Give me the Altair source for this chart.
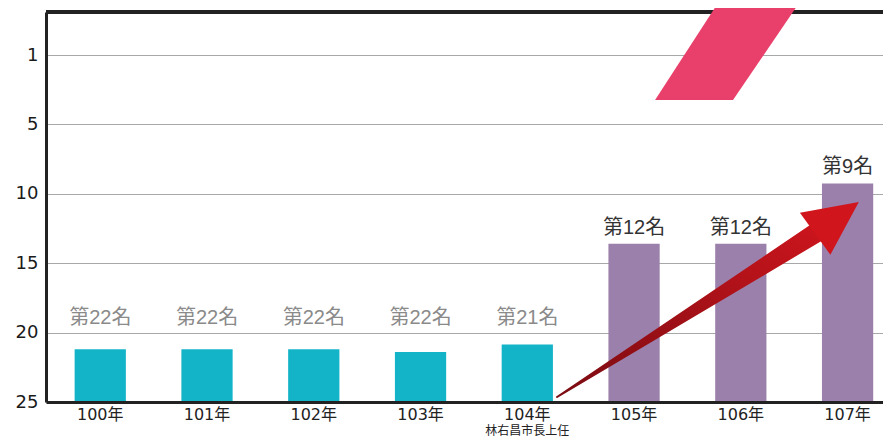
import altair as alt
import pandas as pd

# ---- data ----
years = ["100年", "101年", "102年", "103年", "104年", "105年", "106年", "107年"]
rank_labels = ["第22名", "第22名", "第22名", "第22名", "第21名", "第12名", "第12名", "第9名"]
bar_values = [21.2, 21.2, 21.2, 21.4, 20.85, 13.6, 13.6, 9.25]
periods = ["before", "before", "before", "before", "before", "after", "after", "after"]
ytick_values = [0, 5, 10, 15, 20, 25]
ytick_labels = ["1", "5", "10", "15", "20", "25"]
note_year = "104年"
note_text = "林右昌市長上任"

# decorative arrow / band, in (category index, rank) units
arrow_x = [4.279, 6.761]
arrow_y = [24.64, 12.54]
arrow_w = [2, 20]
head_x = [6.901]
head_y = [11.74]
band_y = [-3.39, 3.24]
band_x = [5.756, 5.197]
band_x2 = [6.514, 5.927]

FONT = "DejaVu Sans, Noto Sans CJK TC"
LFONT = "Liberation Sans, Noto Sans CJK TC"

df = pd.DataFrame({"year": years, "value": bar_values, "label": rank_labels, "period": periods})

xs = alt.Scale(domain=years, paddingInner=0.52, paddingOuter=0.18, align=0.745)
ys = alt.Scale(domain=[-3.1, 25], reverse=True, nice=False, zero=False)

label_expr = "[" + ",".join("'%s'" % s for s in ytick_labels) + "][indexof([" + \
    ",".join(str(v) for v in ytick_values) + "], datum.value)]"

y_axis = alt.Axis(title=None, values=ytick_values, labelExpr=label_expr,
                  ticks=False, labelPadding=8, labelFontSize=18,
                  labelColor="#1a1a1a", labelFont=FONT,
                  grid=True, gridColor="#a8a8a8", gridWidth=1.2,
                  domainColor="#222", domainWidth=3,
                  minExtent=38, maxExtent=38)

bars = alt.Chart(df).mark_bar().encode(
    x=alt.X("year:N", scale=xs, sort=years,
            axis=alt.Axis(title=None, labelAngle=0, ticks=False, labelPadding=4,
                          labelFontSize=16, labelColor="#222", labelFont=FONT,
                          domainColor="#222", domainWidth=3, zindex=1)),
    y=alt.Y("value:Q", scale=ys, axis=y_axis),
    y2=alt.datum(25),
    color=alt.Color("period:N", scale=alt.Scale(domain=["before", "after"],
                                                range=["#14B4C8", "#9B80AB"]), legend=None),
)

top_border = alt.Chart(df).mark_rule(color="#222", strokeWidth=3).encode(
    y=alt.datum(-3.1)
)

labels_before = alt.Chart(df).transform_filter("datum.period == 'before'").mark_text(
    baseline="alphabetic", dy=-9, fontSize=20, color="#8a8a8a", font=LFONT
).encode(
    x=alt.X("year:N", scale=xs, sort=years),
    y=alt.datum(20),
    text="label:N",
)

labels_after = alt.Chart(df).transform_filter("datum.period == 'after'").mark_text(
    baseline="alphabetic", dy=-10, fontSize=20, color="#333", font=LFONT
).encode(
    x=alt.X("year:N", scale=xs, sort=years),
    y=alt.Y("value:Q", axis=y_axis),
    text="label:N",
)

note = alt.Chart(pd.DataFrame({"year": [note_year], "note": [note_text]})).mark_text(
    baseline="middle", dy=29, fontSize=12, color="#222", font=LFONT
).encode(
    x=alt.X("year:N", scale=xs, sort=years),
    y=alt.datum(25),
    text="note:N",
)

nominal = alt.layer(bars, top_border, labels_before, labels_after, note)

xq = alt.Scale(domain=[-0.508, 7.332], nice=False, zero=False)

pink = alt.Chart(pd.DataFrame({"y": band_y, "x": band_x, "x2": band_x2})).mark_area(
    orient="horizontal", color="#E8406B", opacity=1
).encode(
    y=alt.Y("y:Q", axis=y_axis),
    x=alt.X("x:Q", scale=xq, axis=None),
    x2="x2:Q",
)

trail = alt.Chart(pd.DataFrame({"x": arrow_x, "y": arrow_y, "w": arrow_w})).mark_trail(
    color={"gradient": "linear", "x1": 0, "y1": 1, "x2": 1, "y2": 0,
           "stops": [{"offset": 0, "color": "#7a0c12"}, {"offset": 1, "color": "#cf151d"}]}
).encode(
    x=alt.X("x:Q", scale=xq, axis=None),
    y=alt.Y("y:Q", axis=y_axis),
    size=alt.Size("w:Q", scale=None, legend=None),
)

head = alt.Chart(pd.DataFrame({"x": head_x, "y": head_y})).mark_point(
    shape="M0,-1L-0.96,1L0.96,1Z", size=2916, angle=54, filled=True,
    color="#d0151d", opacity=1
).encode(
    x=alt.X("x:Q", scale=xq, axis=None),
    y=alt.Y("y:Q", axis=y_axis),
)

deco = alt.layer(pink, trail, head)

chart = alt.layer(nominal, deco).resolve_scale(x="independent").properties(
    width=837, height=390,
    autosize=alt.AutoSizeParams(type="none"),
    padding={"left": 38, "top": 4, "right": 0, "bottom": 36},
    background="white",
).configure_view(stroke=None)

chart.save("out.html", embed_options={"renderer": "svg", "actions": False})
